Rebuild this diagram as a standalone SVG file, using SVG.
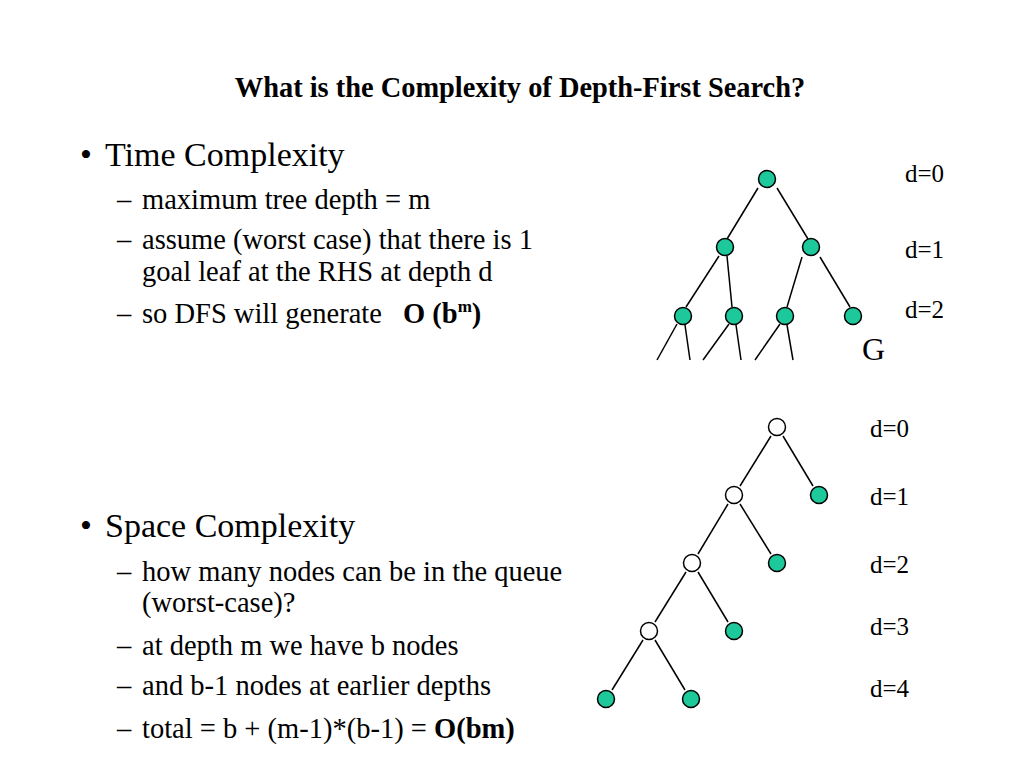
<svg xmlns="http://www.w3.org/2000/svg" width="1024" height="768" viewBox="0 0 1024 768">
<style>
text{font-family:"Liberation Serif","Times New Roman",serif;fill:#000}
.title{font-size:28.4px;font-weight:bold}
.b1{font-size:34px}
.b2{font-size:28.5px}
.lbl{font-size:25px}
.bold{font-weight:bold}
.g{fill:#1DC89A;stroke:#000;stroke-width:1.5}
.w{fill:#fff;stroke:#000;stroke-width:1.5}
.e{stroke:#000;stroke-width:1.5;fill:none}
</style>
<rect width="1024" height="768" fill="#fff"/>
<text class="title" x="520" y="97" text-anchor="middle">What is the Complexity of Depth-First Search?</text>

<g id="text-time">
<text class="b1" x="80" y="166">•</text>
<text class="b1" x="105" y="166">Time Complexity</text>
<text class="b2" x="117" y="209">–</text>
<text class="b2" x="142" y="209">maximum tree depth = m</text>
<text class="b2" x="117" y="249">–</text>
<text class="b2" x="142" y="249">assume (worst case) that there is 1</text>
<text class="b2" x="142" y="281">goal leaf at the RHS at depth d</text>
<text class="b2" x="117" y="323">–</text>
<text class="b2" x="142" y="323">so DFS will generate</text>
<text class="b2 bold" x="403" y="323">O (b<tspan font-size="17" dy="-11">m</tspan><tspan dy="11">)</tspan></text>
</g>

<g id="text-space">
<text class="b1" x="80" y="537">•</text>
<text class="b1" x="105" y="537">Space Complexity</text>
<text class="b2" x="117" y="581">–</text>
<text class="b2" x="142" y="581">how many nodes can be in the queue</text>
<text class="b2" x="142" y="612">(worst-case)?</text>
<text class="b2" x="117" y="655">–</text>
<text class="b2" x="142" y="655">at depth m we have b nodes</text>
<text class="b2" x="117" y="695">–</text>
<text class="b2" x="142" y="695">and b-1 nodes at earlier depths</text>
<text class="b2" x="117" y="738">–</text>
<text class="b2" x="142" y="738">total = b + (m-1)*(b-1) = <tspan class="bold">O(bm)</tspan></text>
</g>

<g id="connectors">
<line class="e" x1="758" y1="188" x2="727" y2="239"/>
<line class="e" x1="777" y1="188" x2="808" y2="239"/>
<line class="e" x1="719" y1="256" x2="686" y2="307"/>
<line class="e" x1="727" y1="256" x2="732" y2="307"/>
<line class="e" x1="802" y1="257" x2="787" y2="307"/>
<line class="e" x1="820" y1="257" x2="850" y2="307"/>
<line class="e" x1="677" y1="324" x2="657" y2="360"/>
<line class="e" x1="685" y1="325" x2="690" y2="360"/>
<line class="e" x1="729" y1="324" x2="703" y2="360"/>
<line class="e" x1="736" y1="325" x2="741" y2="360"/>
<line class="e" x1="780" y1="324" x2="755" y2="360"/>
<line class="e" x1="787" y1="325" x2="793" y2="360"/>

<line class="e" x1="771" y1="436" x2="740" y2="486"/>
<line class="e" x1="783" y1="436" x2="813" y2="486"/>
<line class="e" x1="728" y1="504" x2="698" y2="554"/>
<line class="e" x1="740" y1="504" x2="771" y2="554"/>
<line class="e" x1="686" y1="572" x2="655" y2="622"/>
<line class="e" x1="698" y1="572" x2="728" y2="622"/>
<line class="e" x1="643" y1="640" x2="612" y2="690"/>
<line class="e" x1="655" y1="640" x2="685" y2="690"/>
</g>

<g id="t-root"><circle class="g" cx="767" cy="179" r="8.5"/></g>
<g id="t-a"><circle class="g" cx="725" cy="247" r="8.5"/></g>
<g id="t-b"><circle class="g" cx="811" cy="247" r="8.5"/></g>
<g id="t-a1"><circle class="g" cx="683" cy="316" r="8.5"/></g>
<g id="t-a2"><circle class="g" cx="734" cy="316" r="8.5"/></g>
<g id="t-b1"><circle class="g" cx="785" cy="316" r="8.5"/></g>
<g id="t-b2"><circle class="g" cx="853" cy="316" r="8.5"/></g>
<g id="t-goal"><text x="862" y="360" font-size="32">G</text></g>
<g id="t-labels">
<text class="lbl" x="905" y="182">d=0</text>
<text class="lbl" x="905" y="258">d=1</text>
<text class="lbl" x="905" y="318">d=2</text>
</g>

<g id="s-root"><circle class="w" cx="777" cy="427" r="8.5"/></g>
<g id="s-a"><circle class="w" cx="734" cy="495" r="8.5"/></g>
<g id="s-b"><circle class="g" cx="819" cy="495" r="8.5"/></g>
<g id="s-c"><circle class="w" cx="692" cy="563" r="8.5"/></g>
<g id="s-d"><circle class="g" cx="777" cy="563" r="8.5"/></g>
<g id="s-e"><circle class="w" cx="649" cy="631" r="8.5"/></g>
<g id="s-f"><circle class="g" cx="734" cy="631" r="8.5"/></g>
<g id="s-g1"><circle class="g" cx="606" cy="699" r="8.5"/></g>
<g id="s-g2"><circle class="g" cx="691" cy="699" r="8.5"/></g>
<g id="s-labels">
<text class="lbl" x="870" y="437">d=0</text>
<text class="lbl" x="870" y="505">d=1</text>
<text class="lbl" x="870" y="573">d=2</text>
<text class="lbl" x="870" y="635">d=3</text>
<text class="lbl" x="870" y="697">d=4</text>
</g>
</svg>
